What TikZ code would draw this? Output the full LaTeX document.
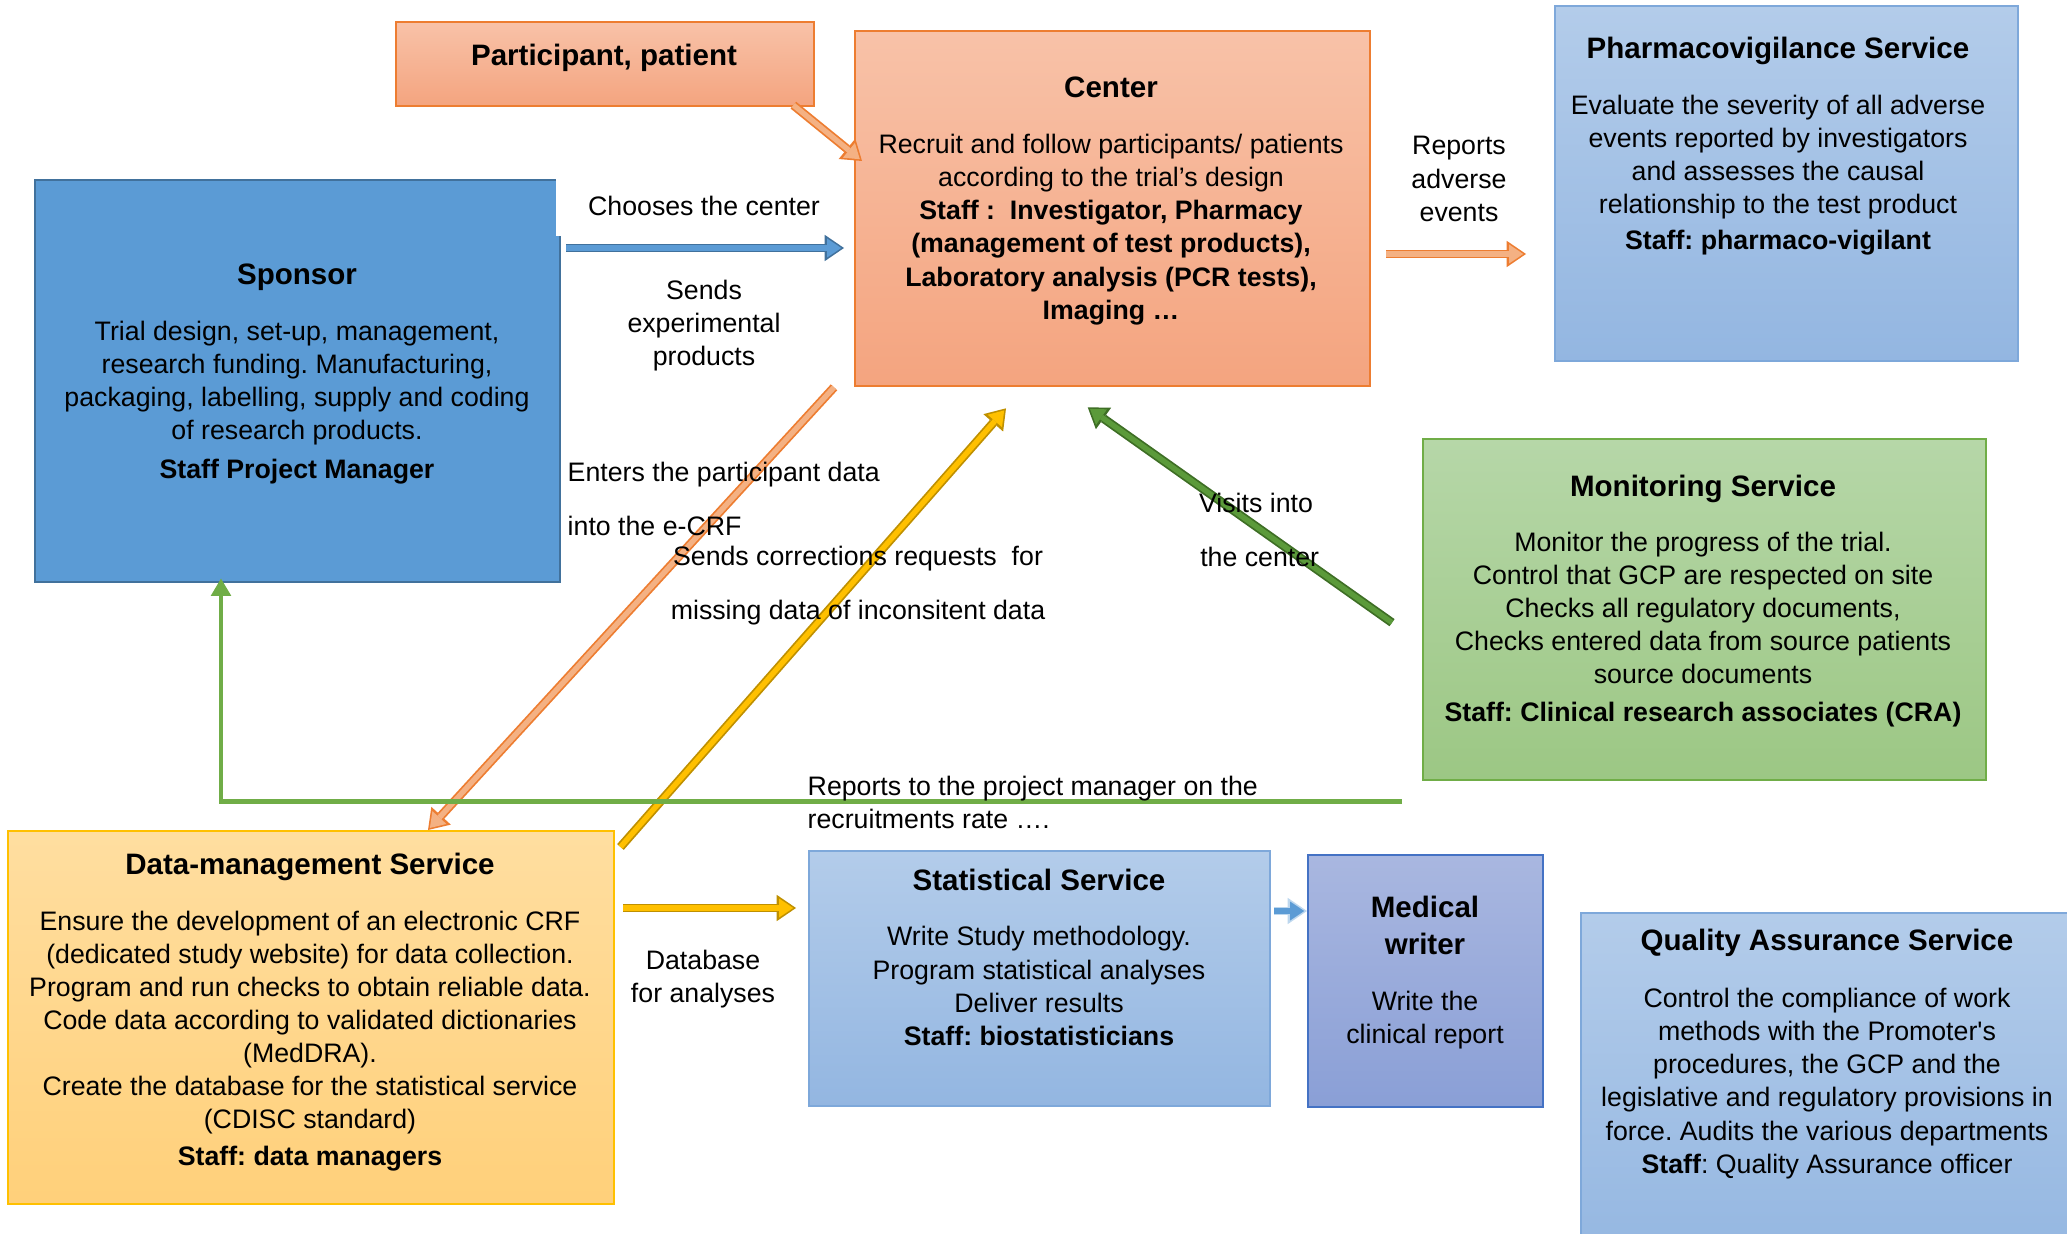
\documentclass[tikz,border=0pt]{standalone}
\usepackage{fontspec}
\setmainfont{Liberation Sans}
\usetikzlibrary{arrows.meta,calc}
\frenchspacing

\definecolor{salmonA}{HTML}{F8C2A8}
\definecolor{salmonB}{HTML}{F4A47F}
\definecolor{salmonF}{HTML}{F4B183}
\definecolor{orangeD}{HTML}{ED7D31}
\definecolor{sponsorF}{HTML}{5B9BD5}
\definecolor{sponsorD}{HTML}{41719C}
\definecolor{lblueA}{HTML}{B3CCEA}
\definecolor{lblueB}{HTML}{93B6E1}
\definecolor{lblueD}{HTML}{7EA8DA}
\definecolor{lblueE}{HTML}{BDD7EE}
\definecolor{greenA}{HTML}{B6D7A8}
\definecolor{greenB}{HTML}{9CC784}
\definecolor{greenD}{HTML}{70AD47}
\definecolor{greenK}{HTML}{5B9A3A}
\definecolor{greenL}{HTML}{3E6E25}
\definecolor{yellowA}{HTML}{FFDEA0}
\definecolor{yellowB}{HTML}{FFD07A}
\definecolor{yellowD}{HTML}{FFC000}
\definecolor{goldD}{HTML}{BF9000}
\definecolor{purpA}{HTML}{A9B7E0}
\definecolor{purpB}{HTML}{8A9FD6}
\definecolor{purpD}{HTML}{4472C4}

\newcommand{\ttlfont}{\fontsize{8.4}{9.4}\selectfont\bfseries}

\begin{document}
\begin{tikzpicture}[x=0.01cm, y=-0.01cm,
    box/.style={anchor=north west, inner sep=0pt, line width=0.6pt},
    salbox/.style={box, draw=orangeD, top color=salmonA, bottom color=salmonB},
    bluebox/.style={box, draw=lblueD, top color=lblueA, bottom color=lblueB},
    txt/.style={font=\fontsize{7.6}{9.4}\selectfont, align=center, inner sep=0pt},
    blockarr/.style 2 args={preaction={draw=#1, line width=2.5pt, shorten >=0pt,
        -{Triangle[length=5.5pt,width=7.5pt,line width=0pt]}},
        draw=#2, line width=1.5pt, shorten >=0.8pt,
        -{Triangle[length=4pt,width=5.4pt,line width=0pt]}},
    ]
    \useasboundingbox (0,0) rectangle (2067,1234);

    % boxes
    \node[salbox, minimum width=4.18cm, minimum height=0.84cm] (part) at (395,21) {};
    \node[salbox, minimum width=5.15cm, minimum height=3.55cm] (cent) at (854,30) {};
    \node[box, draw=sponsorD, fill=sponsorF, minimum width=5.25cm, minimum height=4.02cm] (spon) at (34,179) {};
    \node[bluebox, minimum width=4.63cm, minimum height=3.55cm] (phv) at (1554,5) {};
    \node[box, draw=greenD, top color=greenA, bottom color=greenB, minimum width=5.63cm, minimum height=3.41cm] (mon) at (1422,438) {};
    \node[box, draw=yellowD, top color=yellowA, bottom color=yellowB, minimum width=6.06cm, minimum height=3.73cm] (dm) at (7,830) {};
    \node[bluebox, minimum width=4.61cm, minimum height=2.55cm] (stat) at (808,850) {};
    \node[box, draw=purpD, top color=purpA, bottom color=purpB, minimum width=2.35cm, minimum height=2.52cm] (med) at (1307,854) {};
    \node[bluebox, minimum width=5.2cm, minimum height=3.6cm] (qa) at (1580,912) {};

    \node[txt, fill=white, minimum width=2.96cm, minimum height=0.6cm] (lchoose) at (704,206) {Chooses the center};

    % connectors
    \draw[blockarr={orangeD}{salmonF}] ($(part.south east)+(-22,-2)$) -- ($(cent.north west)+(8,131)$);
    \draw[blockarr={sponsorD}{sponsorF}] ($(spon.north east)+(5,69)$) -- ($(cent.north west)+(-10,218)$);
    \draw[blockarr={orangeD}{salmonF}] ($(cent.south west)+(-20,0)$) -- ($(dm.north west)+(421,0)$);
    \draw[blockarr={goldD}{yellowD}] ($(dm.north east)+(5,17)$) -- ($(cent.south west)+(152,21)$);
    \draw[blockarr={greenL}{greenK}] ($(mon.west)+(-30,13)$) -- ($(cent.south)+(-25,20)$);
    \draw[draw=greenD, line width=1.4pt, -{Triangle[length=5pt,width=5.5pt]}] ($(mon.south west)+(-20,20)$) -| ($(spon.south west)+(187,-5)$);
    \draw[blockarr={orangeD}{salmonF}] ($(cent.north east)+(15,224)$) -- ($(phv.north west)+(-28,249)$);
    \draw[blockarr={goldD}{yellowD}] ($(dm.north east)+(8,78)$) -- ($(stat.north west)+(-12,58)$);
    \draw[blockarr={lblueE}{sponsorF}] ($(stat.north east)+(3,61)$) -- ($(med.north west)+(0,57)$);

    % box texts
    \node[txt] (parttxt) at (604,58) {\ttlfont Participant, patient};
    \node[txt] (centtxt) at (1111,201) {{\ttlfont Center}\\[6.5pt]
        Recruit and follow participants/ patients\\
        according to the trial’s design\\
        \textbf{Staff :\ \ Investigator, Pharmacy}\\
        \textbf{(management of test products),}\\
        \textbf{Laboratory analysis (PCR tests),}\\
        \textbf{Imaging …}};
    \node[txt] (spontxt) at (297,374) {{\ttlfont Sponsor}\\[6.5pt]
        Trial design, set-up, management,\\
        research funding. Manufacturing,\\
        packaging, labelling, supply and coding\\
        of research products.\\[1.5pt]
        \textbf{Staff Project Manager}};
    \node[txt] (phvtxt) at (1778,146) {{\ttlfont Pharmacovigilance Service}\\[6.5pt]
        Evaluate the severity of all adverse\\
        events reported by investigators\\
        and assesses the causal\\
        relationship to the test product\\[0.8pt]
        \textbf{Staff: pharmaco-vigilant}};
    \node[txt] (montxt) at (1703,601) {{\ttlfont Monitoring Service}\\[6.2pt]
        Monitor the progress of the trial.\\
        Control that GCP are respected on site\\
        Checks all regulatory documents,\\
        Checks entered data from source patients\\
        source documents\\[1.5pt]
        \textbf{Staff: Clinical research associates (CRA)}};
    \node[txt] (dmtxt) at (310,1012) {{\ttlfont Data-management Service}\\[6.5pt]
        Ensure the development of an electronic CRF\\
        (dedicated study website) for data collection.\\
        Program and run checks to obtain reliable data.\\
        Code data according to validated dictionaries\\
        (MedDRA).\\
        Create the database for the statistical service\\
        (CDISC standard)\\[1pt]
        \textbf{Staff: data managers}};
    \node[txt] (stattxt) at (1039,957) {{\ttlfont Statistical Service}\\[6.5pt]
        Write Study methodology.\\
        Program statistical analyses\\
        Deliver results\\
        \textbf{Staff: biostatisticians}};
    \node[txt] (medtxt) at (1425,973) {{\ttlfont Medical}\\[1.1pt]
        {\ttlfont writer}\\[6.5pt]
        Write the\\
        clinical report};
    \node[txt] (qatxt) at (1827,1054) {{\ttlfont Quality Assurance Service}\\[6.8pt]
        Control the compliance of work\\
        methods with the Promoter\textquotesingle s\\
        procedures, the GCP and the\\
        legislative and regulatory provisions in\\
        force. Audits the various departments\\
        \textbf{Staff}: Quality Assurance officer};

    % connector labels
    \node[txt] (lsends) at (704,326) {Sends\\experimental\\products};
    \node[txt] (lreports) at (1459,179) {Reports\\adverse\\events};
    \node[txt, align=left, anchor=west, font=\fontsize{7.6}{15.6}\selectfont] (lenters) at (567,499) {Enters the participant data\\into the e-CRF};
    \node[txt, font=\fontsize{7.6}{15.4}\selectfont] (lcorr) at (858,586) {Sends corrections requests\ \ for\\missing data of inconsitent data};
    \node[txt, font=\fontsize{7.6}{15.6}\selectfont] (lvisits) at (1256,530) {Visits into\\\ the center};
    \node[txt, align=left, anchor=west] (lrecruit) at (807,802) {Reports to the project manager on the\\recruitments rate ….};
    \node[txt] (ldb) at (703,979) {Database\\for analyses};

\end{tikzpicture}
\end{document}
